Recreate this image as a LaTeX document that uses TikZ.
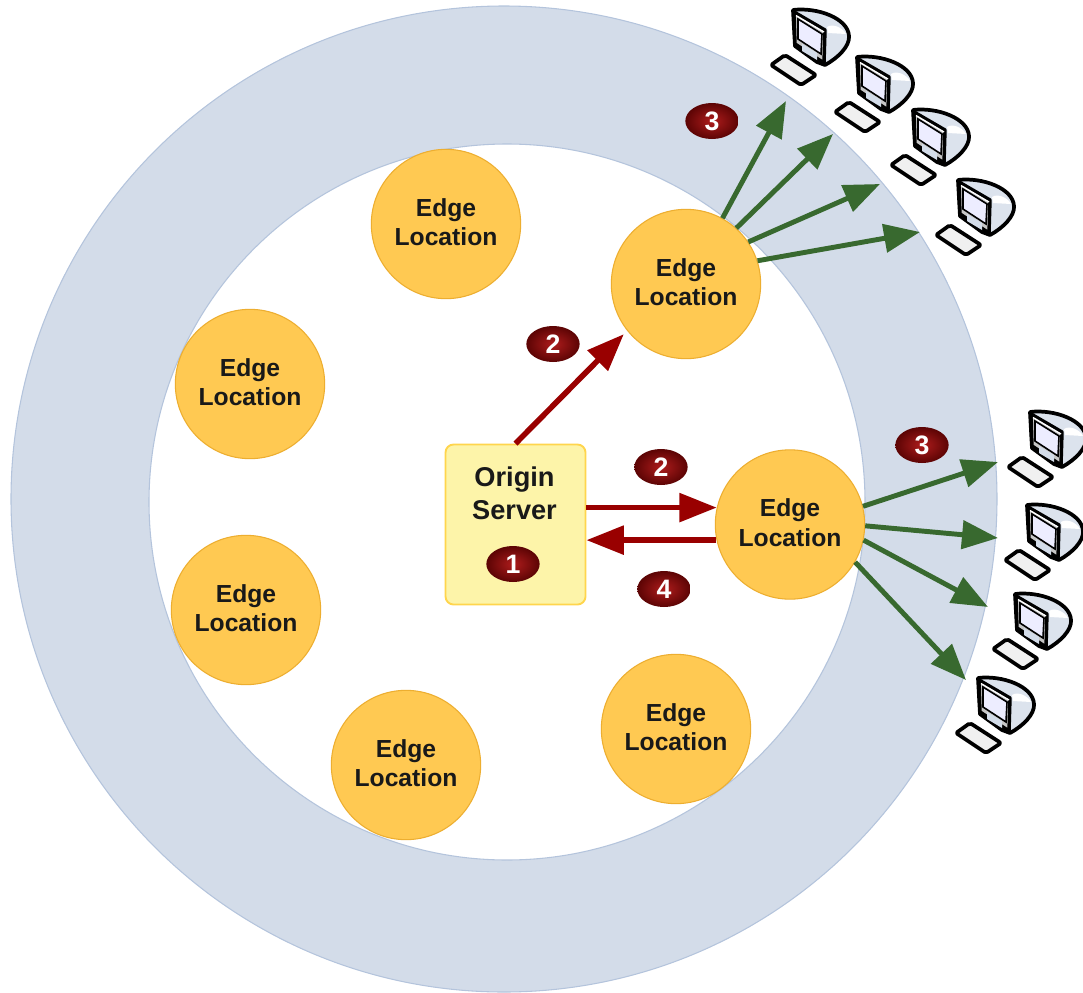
\documentclass[tikz,border=0pt]{standalone}
\usepackage{fontspec}
\setmainfont{Liberation Sans}
\usetikzlibrary{calc,arrows.meta,shapes.geometric}
\definecolor{ringfill}{HTML}{D3DCE9}
\definecolor{ringline}{HTML}{B4C4DC}
\definecolor{edgefill}{HTML}{FFC952}
\definecolor{edgeline}{HTML}{EDAE30}
\definecolor{originfill}{HTML}{FDF4A9}
\definecolor{originline}{HTML}{FFD54D}
\definecolor{darkred}{HTML}{990000}
\definecolor{darkgreen}{HTML}{38692F}
\definecolor{badgein}{HTML}{AE1C1C}
\definecolor{badgeout}{HTML}{5C0404}
\tikzset{
  ring/.style={draw=ringline, line width=0.8pt},
  edgeloc/.style={circle, draw=edgeline, fill=edgefill, line width=0.8pt, minimum size=112pt, inner sep=0pt, align=center, text depth=3pt, font=\fontsize{18.5}{22}\selectfont\bfseries, text=black!90},
  originbox/.style={draw=originline, fill=originfill, rounded corners=6pt, line width=1.4pt, minimum width=105pt, minimum height=120pt, inner sep=0pt},
  originlabel/.style={align=center, font=\fontsize{20.4}{24.5}\selectfont\bfseries, text=black!90, inner sep=0pt},
  badge/.style={ellipse, inner color=badgein, outer color=badgeout, minimum width=40pt, minimum height=27pt, inner sep=0pt, text=white, font=\fontsize{20}{20}\selectfont\bfseries},
  redline/.style={-{Triangle[length=28pt, width=21pt]}, line width=4.2pt, darkred},
  greenline/.style={-{Triangle[length=27pt, width=21pt]}, line width=3.7pt, darkgreen},
  computer/.pic={
    \draw[line width=2.8pt, line join=round, fill=ringfill!80!white] (0,0) .. controls (24,-3) and (55,8) .. (56,26) .. controls (57,36) and (45,48) .. (32,55) -- (24,52) -- (2,36) -- cycle;
    \fill[white] (34,17) .. controls (40,13) and (50,18) .. (53,24) -- (35,23) -- cycle;
    \draw[line width=2.6pt, line join=round, fill=gray!45] (1,2) -- (32,20) -- (31,53) -- (2,34) -- cycle;
    \draw[line width=1pt, white] (3,5.5) -- (31,22);
    \fill[blue!7!white, draw=black, line width=1.2pt] (5,9) -- (29,24) -- (28,44) -- (5,29) -- cycle;
    \fill[ringfill] (9,34) -- (24,43) -- (24,50) -- (9,41) -- cycle;
    \draw[line width=2.8pt, line join=round, rounded corners=1.5pt, fill=gray!12] (-22,55) -- (-8,45) -- (23,65) -- (8,75) -- cycle;
  }
}
\begin{document}
\begin{tikzpicture}[x=0.75pt, y=-0.75pt]
  \useasboundingbox (0,0) rectangle (1083,993);
  \draw[ring, fill=ringfill] (504,499) circle (493);
  \draw[ring, fill=white] (507,502) circle (358);

  \node[edgeloc] (edgeA) at (446,224) {Edge\\Location};
  \node[edgeloc] (edgeB) at (686,284) {Edge\\Location};
  \node[edgeloc] (edgeC) at (250,384) {Edge\\Location};
  \node[edgeloc] (edgeD) at (246,610) {Edge\\Location};
  \node[edgeloc] (edgeE) at (406,765) {Edge\\Location};
  \node[edgeloc] (edgeF) at (676,729) {Edge\\Location};
  \node[edgeloc] (edgeG) at (790,524.5) {Edge\\Location};
  \node[originbox] (origin) at (515.5,524.5) {};
  \node[originlabel] (originname) at (514.5,493) {Origin\\Server};

  \node[badge] (badgeone) at (513,564) {1};
  \node[badge] (badgetwoa) at (553,344) {2};
  \node[badge] (badgetwob) at (661,467) {2};
  \node[badge] (badgethreea) at (712,121) {3};
  \node[badge] (badgethreeb) at (922,445) {3};
  \node[badge] (badgefour) at (664,589) {4};

  \coordinate (outa) at (786,101);
  \coordinate (outb) at (833,134);
  \coordinate (outc) at (880,184);
  \coordinate (outd) at (920,232);
  \coordinate (oute) at (998,462);
  \coordinate (outf) at (998,538);
  \coordinate (outg) at (988,607);
  \coordinate (outh) at (966,680);

  \draw[redline, shorten >=-1pt] (origin.north) -- ($(edgeB.center)!1.08!(edgeB.219)$);
  \draw[redline] (edgeG.167.7 -| origin.east) -- (edgeG.167.7);
  \draw[redline] (edgeG.192.3) -- (edgeG.192.3 -| origin.east);

  \draw[greenline] (edgeB.61) -- (outa);
  \draw[greenline] (edgeB.48.7) -- (outb);
  \draw[greenline] (edgeB.34.5) -- (outc);
  \draw[greenline] (edgeB.18.4) -- (outd);
  \draw[greenline] (edgeG.14.6) -- (oute);
  \draw[greenline] (edgeG.-1.5) -- (outf);
  \draw[greenline] (edgeG.-12.8) -- (outg);
  \draw[greenline] (edgeG.-30) -- (outh);

  \pic (pca) at (793,10) {computer};
  \pic (pcb) at (857,57) {computer};
  \pic (pcc) at (913,110) {computer};
  \pic (pcd) at (958,180) {computer};
  \pic (pce) at (1030,412) {computer};
  \pic (pcf) at (1027,505) {computer};
  \pic (pcg) at (1015,594) {computer};
  \pic (pch) at (978,678) {computer};
\end{tikzpicture}
\end{document}
